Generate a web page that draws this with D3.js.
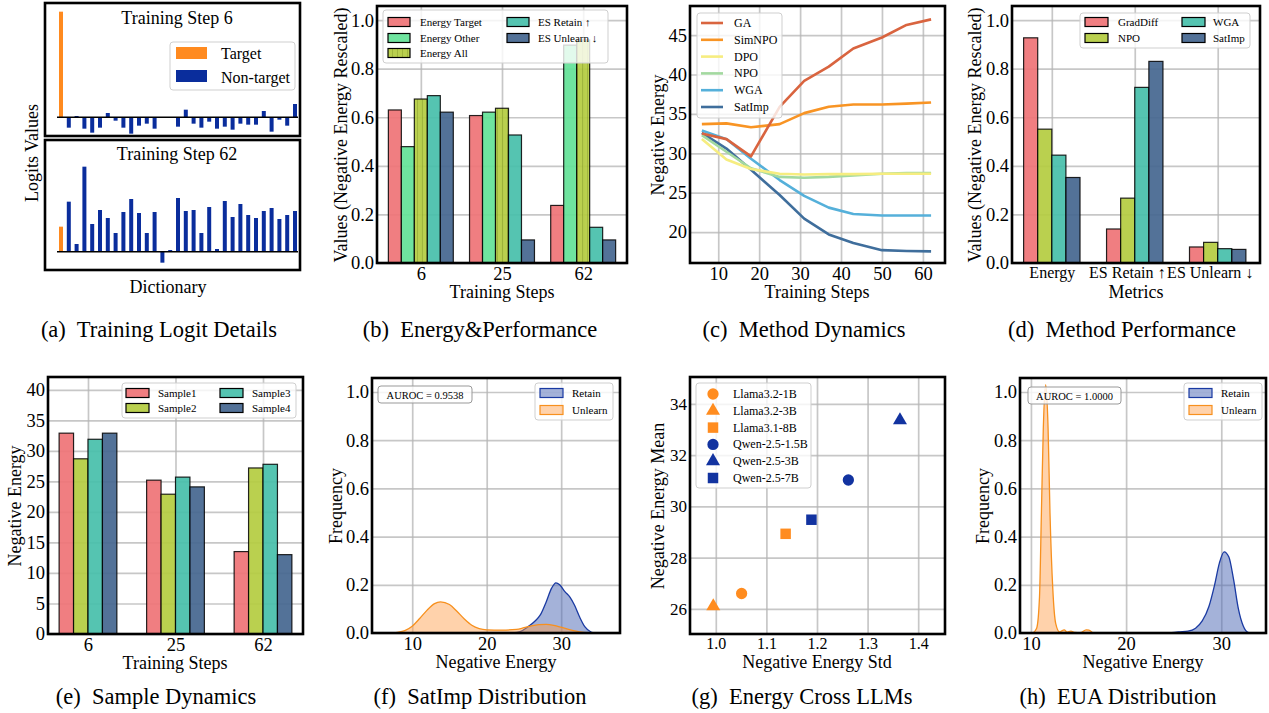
<!DOCTYPE html>
<html>
<head>
<meta charset="utf-8">
<script src="https://cdn.jsdelivr.net/npm/d3@7"></script>
<style>
  body { margin: 0; background: #fff; }
</style>
</head>
<body>
<svg id="fig" width="1269" height="713"></svg>
<script>
// ---- data -------------------------------------------------------------
// (a) logits, index 0 is the target token
const logitsStep6 = [317, -31, 4, -34, -46, -31, 13, -10, -31, -49, -25, -19, -34, 0, 0,
  -28, 23, -19, -31, -13, -34, -28, -37, -19, -22, -22, 19, -43, -7, -25, 40];
const logitsStep62 = [75, 150, 23, 255, 83, 125, 101, 56, 119, 158, 116, 56, 119, -33, 5,
  161, 122, 125, 56, 134, 8, 152, 104, 143, 110, 101, 122, 131, 98, 110, 122];

// (b) energy & performance
const stepLabels = ["6", "25", "62"];
const energyTarget = [0.630, 0.607, 0.237];
const energyOther = [0.479, 0.621, 0.897];
const energyAll = [0.675, 0.637, 0.918];
const esRetain = [0.689, 0.527, 0.147];
const esUnlearn = [0.621, 0.095, 0.095];

// (c) method dynamics
const methodSteps = [6, 12, 18, 25, 31, 37, 43, 50, 56, 62];
const gaCurve = [32.5, 31.8, 29.6, 35.9, 39.2, 41.0, 43.3, 44.7, 46.3, 47.0];
const simnpoCurve = [33.7, 33.8, 33.3, 33.7, 35.1, 35.9, 36.2, 36.2, 36.3, 36.45];
const dpoCurve = [31.8, 29.2, 28.0, 27.4, 27.3, 27.35, 27.35, 27.4, 27.4, 27.4];
const npoCurve = [32.3, 30.2, 28.1, 27.0, 26.9, 27.0, 27.2, 27.4, 27.5, 27.5];
const wgaCurve = [32.9, 31.8, 29.3, 26.6, 24.6, 23.1, 22.3, 22.1, 22.1, 22.1];
const satimpCurve = [32.6, 30.6, 27.9, 24.7, 21.7, 19.7, 18.6, 17.7, 17.6, 17.55];

// (d) method performance
const metricLabels = ["Energy", "ES Retain \u2191", "ES Unlearn \u2193"];
const graddiffPerf = [0.927, 0.140, 0.066];
const npoPerf = [0.551, 0.267, 0.085];
const wgaPerf = [0.444, 0.723, 0.059];
const satimpPerf = [0.352, 0.830, 0.056];

// (e) sample dynamics
const sample1 = [32.9, 25.2, 13.5];
const sample2 = [28.7, 22.9, 27.2];
const sample3 = [31.9, 25.7, 27.8];
const sample4 = [32.9, 24.1, 13.0];

// (f) SatImp density [negative energy, frequency]
const satimpRetainKde = [[23.5, 0], [24.5, 0.006], [25.5, 0.025], [26.5, 0.05], [27.2, 0.075],
  [28, 0.13], [28.7, 0.185], [29.3, 0.208], [29.8, 0.2], [30.5, 0.172], [31.2, 0.148],
  [31.8, 0.115], [32.5, 0.065], [33.2, 0.025], [34, 0.004], [34.5, 0]];
const satimpUnlearnKde = [[7, 0], [8, 0.003], [9, 0.01], [10, 0.028], [11, 0.06], [12, 0.095],
  [13, 0.122], [13.8, 0.129], [15, 0.118], [16, 0.09], [17, 0.058], [18, 0.032], [19, 0.018],
  [20, 0.013], [22, 0.012], [24, 0.015], [25, 0.022], [26, 0.03], [27, 0.035], [28, 0.036],
  [29, 0.032], [30, 0.024], [31, 0.015], [32, 0.008], [33, 0.003], [34, 0]];
const satimpAuroc = "AUROC = 0.9538";

// (g) energy across LLMs
const llmNames = ["Llama3.2-1B", "Llama3.2-3B", "Llama3.1-8B", "Qwen-2.5-1.5B", "Qwen-2.5-3B", "Qwen-2.5-7B"];
const llmStd = [1.051, 0.995, 1.138, 1.262, 1.364, 1.189];
const llmMean = [26.6, 26.1, 28.93, 31.03, 33.36, 29.48];
const llmShape = ["circle", "triangle", "square", "circle", "triangle", "square"];
const llmFamily = ["llama", "llama", "llama", "qwen", "qwen", "qwen"];

// (h) EUA density
const euaRetainKde = [[24.5, 0], [25.5, 0.005], [26.5, 0.008], [27.3, 0.02], [28, 0.05],
  [28.7, 0.11], [29.3, 0.2], [29.8, 0.29], [30.3, 0.337], [30.8, 0.315], [31.3, 0.22],
  [31.8, 0.1], [32.3, 0.03], [32.8, 0.003], [33.2, 0]];
const euaUnlearnKde = [[10.2, 0], [10.6, 0.02], [10.9, 0.15], [11.1, 0.5], [11.3, 0.85],
  [11.55, 1.03], [11.8, 0.85], [12.0, 0.5], [12.3, 0.18], [12.6, 0.04], [13.0, 0.005],
  [13.5, 0.013], [13.8, 0.004], [14.2, 0.008], [14.6, 0.002], [15.2, 0.001], [15.8, 0.013],
  [16.1, 0.012], [16.5, 0]];
const euaAuroc = "AUROC = 1.0000";

const captions = ["(a)  Training Logit Details", "(b)  Energy&Performance", "(c)  Method Dynamics",
  "(d)  Method Performance", "(e)  Sample Dynamics", "(f)  SatImp Distribution",
  "(g)  Energy Cross LLMs", "(h)  EUA Distribution"];

// ---- helpers ----------------------------------------------------------
const FONT = "'Liberation Serif','Times New Roman',Times,serif";
const svg = d3.select("#fig");

function makePanel(x0, y0, x1, y1, xd, yd) {
  const g = svg.append("g");
  const x = d3.scaleLinear().domain(xd).range([x0, x1]);
  const y = d3.scaleLinear().domain(yd).range([y1, y0]);
  return { g, x, y, box: { x0, y0, x1, y1 } };
}

function drawGrid(p, xt, yt) {
  const { x0, y0, x1, y1 } = p.box;
  const style = s => {
    s.select(".domain").remove();
    s.selectAll("line").attr("stroke", "#b4b4b4").attr("stroke-opacity", 0.75).attr("stroke-width", 1.7);
  };
  p.g.append("g").attr("transform", `translate(0,${y1})`)
    .call(d3.axisBottom(p.x).tickValues(xt).tickSize(-(y1 - y0)).tickFormat(""))
    .call(style);
  p.g.append("g").attr("transform", `translate(${x0},0)`)
    .call(d3.axisLeft(p.y).tickValues(yt).tickSize(-(x1 - x0)).tickFormat(""))
    .call(style);
}

function drawAxes(p, xt, xf, yt, yf, xSize, ySize) {
  const { x0, y0, x1, y1 } = p.box;
  const style = size => s => {
    s.select(".domain").remove();
    s.selectAll("text").attr("font-family", FONT).attr("font-size", size).attr("fill", "#000");
  };
  p.g.append("g").attr("class", "xax").attr("transform", `translate(0,${y1})`)
    .call(d3.axisBottom(p.x).tickValues(xt).tickFormat(xf).tickSize(0).tickPadding(4))
    .call(style(xSize || 18.5));
  p.g.append("g").attr("transform", `translate(${x0},0)`)
    .call(d3.axisLeft(p.y).tickValues(yt).tickFormat(yf).tickSize(0).tickPadding(3))
    .call(style(ySize || 18.5));
  p.g.append("rect").attr("x", x0).attr("y", y0).attr("width", x1 - x0).attr("height", y1 - y0)
    .attr("fill", "none").attr("stroke", "#000").attr("stroke-width", 2.6);
}

function text(g, x, y, str, size, opts) {
  const o = opts || {};
  const t = g.append("text").attr("x", x).attr("y", y).text(str)
    .attr("font-family", FONT).attr("font-size", size).attr("fill", "#000")
    .attr("text-anchor", o.anchor || "start")
    .attr("dominant-baseline", o.baseline || "auto");
  if (o.rotate) t.attr("transform", `rotate(-90,${x},${y})`);
  return t;
}

function legendFrame(g, x, y, w, h) {
  g.append("rect").attr("x", x).attr("y", y).attr("width", w).attr("height", h).attr("rx", 3)
    .attr("fill", "#fff").attr("fill-opacity", 0.8).attr("stroke", "#cfcfcf").attr("stroke-width", 1);
}

// hatch for "Energy All"
const defs = svg.append("defs");
defs.append("pattern").attr("id", "vhatch").attr("patternUnits", "userSpaceOnUse")
  .attr("width", 5).attr("height", 5)
  .call(pt => {
    pt.append("rect").attr("width", 5).attr("height", 5).attr("fill", "#b4cc40");
    pt.append("line").attr("x1", 2.5).attr("x2", 2.5).attr("y1", 0).attr("y2", 5)
      .attr("stroke", "#98b02e").attr("stroke-width", 1);
  });

function groupedBars(p, series, width) {
  const n = series.length;
  series.forEach((s, si) => {
    p.g.append("g").selectAll("rect").data(s.values).join("rect")
      .attr("x", (d, i) => p.x(i + (si - (n - 1) / 2) * width - width / 2))
      .attr("width", p.x(width) - p.x(0))
      .attr("y", d => p.y(d))
      .attr("height", d => p.y(0) - p.y(d))
      .attr("fill", s.fill || s.color).attr("fill-opacity", 0.92)
      .attr("stroke", "#000").attr("stroke-opacity", 0.85).attr("stroke-width", 1.2);
  });
}

function patchLegend(g, items, cols, rows, pw, ph) {
  items.forEach((it, i) => {
    const cx = cols[Math.floor(i / rows.length)];
    const cy = rows[i % rows.length];
    g.append("rect").attr("x", cx.patch).attr("y", cy - ph / 2).attr("width", pw).attr("height", ph)
      .attr("fill", it.fill || it.color).attr("fill-opacity", it.opacity || 0.92)
      .attr("stroke", it.stroke || "#000").attr("stroke-width", 1.2);
    text(g, cx.text, cy, it.name, it.size || 11, { baseline: "central" });
  });
}

// ---- (a) Training Logit Details ----------------------------------------
{
  const g = svg.append("g");
  const idx = d3.scaleLinear().domain([0, 30]).range([61, 295]);
  const yTop = d3.scaleLinear().domain([-56, 340]).range([136, 4]);
  const yBot = d3.scaleLinear().domain([-55, 335]).range([270, 140]);
  [[logitsStep6, yTop, 3, 136, "Training Step 6", 24],
   [logitsStep62, yBot, 140, 270, "Training Step 62", 160]].forEach(([vals, ys, top, bot, title, ty]) => {
    g.append("g").selectAll("rect").data(vals).join("rect")
      .attr("x", (d, i) => idx(i) - 2)
      .attr("width", 4)
      .attr("y", d => Math.min(ys(d), ys(0)))
      .attr("height", d => Math.abs(ys(d) - ys(0)))
      .attr("fill", (d, i) => i === 0 ? "#ff8a1f" : "#0a2d9c");
    g.append("line").attr("x1", 57).attr("x2", 298).attr("y1", ys(0)).attr("y2", ys(0))
      .attr("stroke", "#000").attr("stroke-width", 1.5);
    text(g, 177, ty, title, 18, { anchor: "middle" });
    g.append("rect").attr("x", 45).attr("y", top).attr("width", 255).attr("height", bot - top)
      .attr("fill", "none").attr("stroke", "#000").attr("stroke-width", 2.6);
  });
  legendFrame(g, 170, 42, 125, 48);
  g.append("rect").attr("x", 176).attr("y", 47).attr("width", 31).attr("height", 12).attr("fill", "#ff8a1f");
  g.append("rect").attr("x", 176).attr("y", 70).attr("width", 31).attr("height", 12).attr("fill", "#0a2d9c");
  text(g, 221, 53, "Target", 16, { baseline: "central" });
  text(g, 221, 77, "Non-target", 16, { baseline: "central" });
  text(g, 32, 153, "Logits Values", 18, { anchor: "middle", baseline: "central", rotate: true });
  text(g, 168, 293, "Dictionary", 18, { anchor: "middle" });
}

// ---- (b) Energy & Performance -------------------------------------------
{
  const p = makePanel(377, 6, 627, 263, [-0.54, 2.54], [0, 1.058]);
  drawGrid(p, [0, 1, 2], d3.range(0, 1.01, 0.2));
  const series = [
    { name: "Energy Target", color: "#ef7376", values: energyTarget },
    { name: "Energy Other", color: "#63e297", values: energyOther },
    { name: "Energy All", color: "#b4cc40", fill: "url(#vhatch)", values: energyAll },
    { name: "ES Retain \u2191", color: "#46bfaa", values: esRetain },
    { name: "ES Unlearn \u2193", color: "#44668f", values: esUnlearn }
  ];
  groupedBars(p, series, 0.16);
  legendFrame(p.g, 383, 10, 225, 53);
  patchLegend(p.g, series, [{ patch: 388, text: 420 }, { patch: 507, text: 538 }], [22, 38, 53], 22, 9);
  drawAxes(p, [0, 1, 2], i => stepLabels[i], d3.range(0, 1.01, 0.2), d3.format(".1f"));
  text(p.g, 502, 298, "Training Steps", 18, { anchor: "middle" });
  text(p.g, 341, 135, "Values (Negative Energy Rescaled)", 18, { anchor: "middle", baseline: "central", rotate: true });
}

// ---- (c) Method Dynamics ------------------------------------------------
{
  const p = makePanel(690, 6, 945, 263, [3.1, 65.4], [16.07, 48.7]);
  drawGrid(p, d3.range(10, 61, 10), d3.range(20, 46, 5));
  const lines = [
    { name: "GA", color: "#d9643f", values: gaCurve },
    { name: "SimNPO", color: "#f89424", values: simnpoCurve },
    { name: "DPO", color: "#f6ed80", values: dpoCurve },
    { name: "NPO", color: "#a3d9a0", values: npoCurve },
    { name: "WGA", color: "#55b0da", values: wgaCurve },
    { name: "SatImp", color: "#3f6e9c", values: satimpCurve }
  ];
  const line = d3.line().x((d, i) => p.x(methodSteps[i])).y(d => p.y(d));
  // draw in reverse so GA ends on top like the reference
  lines.slice().reverse().forEach(l => {
    p.g.append("path").attr("d", line(l.values)).attr("fill", "none")
      .attr("stroke", l.color).attr("stroke-width", 2.6).attr("stroke-linejoin", "round");
  });
  legendFrame(p.g, 697, 13, 85, 105);
  lines.forEach((l, i) => {
    const cy = 23 + i * 16.8;
    p.g.append("line").attr("x1", 701).attr("x2", 723).attr("y1", cy).attr("y2", cy)
      .attr("stroke", l.color).attr("stroke-width", 2.6);
    text(p.g, 734, cy, l.name, 12, { baseline: "central" });
  });
  drawAxes(p, d3.range(10, 61, 10), d3.format("d"), d3.range(20, 46, 5), d3.format("d"));
  text(p.g, 817, 298, "Training Steps", 18, { anchor: "middle" });
  text(p.g, 658, 135, "Negative Energy", 18, { anchor: "middle", baseline: "central", rotate: true });
}

// ---- (d) Method Performance ---------------------------------------------
{
  const p = makePanel(1012, 6, 1260, 263, [-0.48, 2.51], [0, 1.058]);
  drawGrid(p, [0, 1, 2], d3.range(0, 1.01, 0.2));
  const series = [
    { name: "GradDiff", color: "#ef7376", values: graddiffPerf },
    { name: "NPO", color: "#b4cc40", values: npoPerf },
    { name: "WGA", color: "#46bfaa", values: wgaPerf },
    { name: "SatImp", color: "#44668f", values: satimpPerf }
  ];
  groupedBars(p, series, 0.17);
  legendFrame(p.g, 1080, 13, 170, 35);
  patchLegend(p.g, series, [{ patch: 1085, text: 1118 }, { patch: 1182, text: 1213 }], [22, 38], 23, 9);
  drawAxes(p, [0, 1, 2], i => metricLabels[i], d3.range(0, 1.01, 0.2), d3.format(".1f"), 16, 18.5);
  p.g.select(".xax").selectAll("text").attr("dx", (d, i) => i === 0 ? 0 : -8);
  text(p.g, 1136, 298, "Metrics", 18, { anchor: "middle" });
  text(p.g, 975, 135, "Values (Negative Energy Rescaled)", 18, { anchor: "middle", baseline: "central", rotate: true });
}

// ---- (e) Sample Dynamics ------------------------------------------------
{
  const p = makePanel(48, 377, 303, 634, [-0.457, 2.457], [0, 42.1]);
  drawGrid(p, [0, 1, 2], d3.range(0, 41, 5));
  const series = [
    { name: "Sample1", color: "#ef7376", values: sample1 },
    { name: "Sample2", color: "#b4cc40", values: sample2 },
    { name: "Sample3", color: "#46bfaa", values: sample3 },
    { name: "Sample4", color: "#44668f", values: sample4 }
  ];
  groupedBars(p, series, 0.165);
  legendFrame(p.g, 122, 383, 174, 35);
  patchLegend(p.g, series, [{ patch: 126, text: 158 }, { patch: 220, text: 252 }], [393, 408], 23, 9);
  drawAxes(p, [0, 1, 2], i => stepLabels[i], d3.range(0, 41, 5), d3.format("d"));
  text(p.g, 175, 669, "Training Steps", 18, { anchor: "middle" });
  text(p.g, 15, 506, "Negative Energy", 18, { anchor: "middle", baseline: "central", rotate: true });
}

// ---- KDE panels (f) and (h) --------------------------------------------
function kdePanel(p, retain, unlearn, auroc, aurocBox, legendX) {
  drawGrid(p, [10, 20, 30], d3.range(0, 1.01, 0.2));
  const area = d3.area().curve(d3.curveMonotoneX)
    .x(d => p.x(d[0])).y0(p.y(0)).y1(d => p.y(d[1]));
  const line = d3.line().curve(d3.curveMonotoneX).x(d => p.x(d[0])).y(d => p.y(d[1]));
  [[retain, "#4a66b3", 0.5, "#1a3aa2"], [unlearn, "#ff9c45", 0.45, "#f7901e"]].forEach(([d, f, op, s]) => {
    p.g.append("path").attr("d", area(d)).attr("fill", f).attr("fill-opacity", op);
    p.g.append("path").attr("d", line(d)).attr("fill", "none").attr("stroke", s).attr("stroke-width", 1.3);
  });
  const [ax, ay, aw, ah] = aurocBox;
  p.g.append("rect").attr("x", ax).attr("y", ay).attr("width", aw).attr("height", ah).attr("rx", 3)
    .attr("fill", "#fff").attr("fill-opacity", 0.8).attr("stroke", "#999").attr("stroke-width", 1);
  text(p.g, ax + aw / 2, ay + ah / 2 + 0.5, auroc, 10.5, { anchor: "middle", baseline: "central" });
  legendFrame(p.g, legendX, 383, 78, 37);
  patchLegend(p.g, [
    { name: "Retain", fill: "#4a66b3", opacity: 0.5, stroke: "#1a3aa2" },
    { name: "Unlearn", fill: "#ff9c45", opacity: 0.45, stroke: "#f7901e" }
  ], [{ patch: legendX + 5, text: legendX + 37 }], [393, 410], 23, 9);
  drawAxes(p, [10, 20, 30], d3.format("d"), d3.range(0, 1.01, 0.2), d3.format(".1f"));
}

{
  const p = makePanel(372, 378, 620, 633, [4.6, 37.9], [0, 1.058]);
  kdePanel(p, satimpRetainKde, satimpUnlearnKde, satimpAuroc, [378, 386, 94, 17], 535);
  text(p.g, 496, 668, "Negative Energy", 18, { anchor: "middle" });
  text(p.g, 336, 506, "Frequency", 18, { anchor: "middle", baseline: "central", rotate: true });
}

{
  const p = makePanel(1020, 378, 1266, 633, [8.85, 34.7], [0, 1.058]);
  kdePanel(p, euaRetainKde, euaUnlearnKde, euaAuroc, [1028, 387, 93, 17], 1184);
  text(p.g, 1143, 668, "Negative Energy", 18, { anchor: "middle" });
  text(p.g, 983, 506, "Frequency", 18, { anchor: "middle", baseline: "central", rotate: true });
}

// ---- (g) Energy Cross LLMs ---------------------------------------------
{
  const p = makePanel(690, 377, 945, 634, [0.949, 1.453], [25.02, 35.05]);
  drawGrid(p, d3.range(1.0, 1.41, 0.1), d3.range(26, 35, 2));
  const famColor = { llama: "#ff8c1f", qwen: "#1233a0" };
  const sym = { circle: d3.symbolCircle, triangle: d3.symbolTriangle, square: d3.symbolSquare };
  const symSize = { circle: 100, triangle: 85, square: 110 };
  const shape = s => d3.symbol(sym[s], symSize[s])();
  p.g.append("g").selectAll("path").data(llmNames).join("path")
    .attr("transform", (d, i) => `translate(${p.x(llmStd[i])},${p.y(llmMean[i])})`)
    .attr("d", (d, i) => shape(llmShape[i]))
    .attr("fill", (d, i) => famColor[llmFamily[i]]);
  legendFrame(p.g, 696, 383, 115, 105);
  llmNames.forEach((n, i) => {
    const cy = 394 + i * 16.8;
    p.g.append("path").attr("transform", `translate(713,${cy})`).attr("d", shape(llmShape[i]))
      .attr("fill", famColor[llmFamily[i]]);
    text(p.g, 733, cy, n, 12, { baseline: "central" });
  });
  drawAxes(p, d3.range(1.0, 1.41, 0.1), d3.format(".1f"), d3.range(26, 35, 2), d3.format("d"), 16, 17);
  text(p.g, 817, 668, "Negative Energy Std", 18, { anchor: "middle" });
  text(p.g, 658, 506, "Negative Energy Mean", 18, { anchor: "middle", baseline: "central", rotate: true });
}

// ---- captions ---------------------------------------------------------
const capX = [159, 480, 804, 1122, 156, 480, 802, 1118];
captions.forEach((c, i) => {
  text(svg, capX[i], i < 4 ? 337 : 704, c, 22.5, { anchor: "middle" }).style("white-space", "pre");
});
</script>
</body>
</html>
